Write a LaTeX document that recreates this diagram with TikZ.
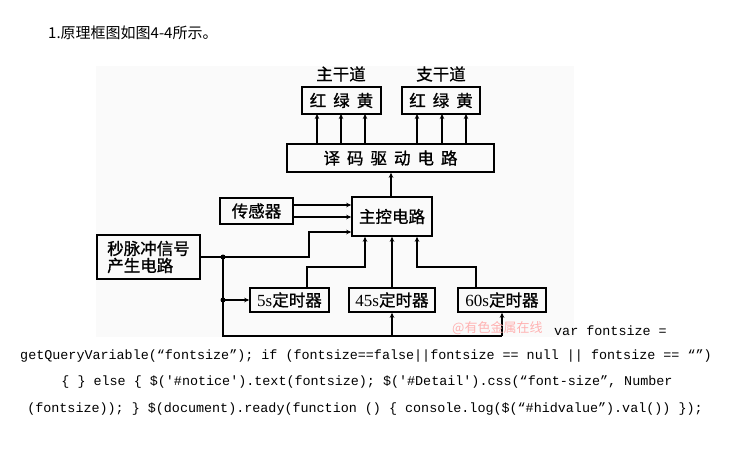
\documentclass[tikz,border=0pt]{standalone}
\usepackage{fontspec}
\setmainfont{Liberation Serif}
\setmonofont{Liberation Mono}
\newfontfamily\cjk{Noto Sans CJK SC}
\newfontfamily\cjkb{Noto Sans CJK SC}[FakeBold=1]
\usetikzlibrary{arrows.meta}
\tikzset{
  blk/.style={draw=black, line width=1.6pt, inner sep=0pt, font=\cjkb\fontsize{16.5}{17}\selectfont, align=center},
  lbl/.style={inner sep=0pt, font=\cjkb\fontsize{16.5}{17}\selectfont},
  wire/.style={line width=1.3pt},
  arr/.style={line width=1.3pt, -{Stealth[length=5pt,width=4.5pt]}},
  dot/.style={circle, fill=black, inner sep=0pt, minimum size=5pt},
  code/.style={inner sep=0pt, font=\ttfamily\fontsize{13.4}{15}\selectfont},
}
\newcommand{\gp}{\hspace{7pt}}
\begin{document}
\begin{tikzpicture}[x=1pt,y=-1pt]
\useasboundingbox (0,0) rectangle (730,458);
\fill[black!2] (96,66) rectangle (574,337);
% title
\node[inner sep=0pt, anchor=west, font=\cjk\fontsize{15}{16}\selectfont] (title) at (48,33) {1.原理框图如图4-4所示。};
% labels
\node[lbl] (ml) at (341,74) {主干道};
\node[lbl] (sl) at (441,74) {支干道};
% blocks
\node[blk, minimum width=79pt, minimum height=27pt] (bm) at (341.5,100.5) {红\gp 绿\gp 黄};
\node[blk, minimum width=78pt, minimum height=27pt] (bs) at (441,100.5) {红\gp 绿\gp 黄};
\node[blk, minimum width=207pt, minimum height=28pt] (dec) at (390.5,158) {译\gp 码\gp 驱\gp 动\gp 电\gp 路};
\node[blk, minimum width=80pt, minimum height=39pt] (ctl) at (392,216.5) {主控电路};
\node[blk, minimum width=73pt, minimum height=26pt] (sen) at (256.5,211) {传感器};
\node[blk, minimum width=103pt, minimum height=44pt, align=left] (pul) at (148.5,257) {秒脉冲信号\\产生电路};
\node[blk, minimum width=79pt, minimum height=24pt] (t5) at (289.5,300) {{\rmfamily\fontsize{17}{17}\selectfont 5s}定时器};
\node[blk, minimum width=86pt, minimum height=24pt] (t45) at (392,300) {{\rmfamily\fontsize{17}{17}\selectfont 45s}定时器};
\node[blk, minimum width=88pt, minimum height=24pt] (t60) at (502,300) {{\rmfamily\fontsize{17}{17}\selectfont 60s}定时器};
% decoder to lights
\foreach \x in {317,341,365,417,442,466}{
  \draw[arr] (dec.north -| \x,0) -- (\x,114);
}
\draw[arr] (ctl.north -| 391,0) -- (dec.south -| 391,0);
% sensor to control
\draw[arr] (sen.east |- 0,205) -- (ctl.west |- 0,205);
\draw[arr] (sen.east |- 0,217) -- (ctl.west |- 0,217);
% pulse
\coordinate (j1) at (223,257);
\coordinate (j2) at (223,300);
\coordinate (bl) at (223,336);
\coordinate (br) at (502,336);
\draw[wire] (pul.east) -- (j1);
\draw[arr] (j1) -- (309,257) -- (309,232) -- (ctl.west |- 0,232);
\draw[wire] (j1) -- (bl) -- (br);
\draw[arr] (br) -- (t60.south);
\draw[arr] (bl -| t45.south) -- (t45.south);
\draw[arr] (j2) -- (t5.west);
\node[dot] (d1) at (j1) {};
\node[dot] (d2) at (j2) {};
% timers to control
\draw[arr] (t5.north -| 307,0) -- (307,267) -- (365,267) -- (ctl.south -| 365,0);
\draw[arr] (t45.north) -- (ctl.south -| t45.north);
\draw[arr] (t60.north -| 476,0) -- (476,267) -- (417,267) -- (ctl.south -| 417,0);
% watermark
\node[inner sep=0pt, anchor=west, text=red!30, font=\cjk\fontsize{13}{14}\selectfont] (wm) at (452,328) {@有色金属在线};
% code text
\node[code, anchor=west] (c1) at (554,331) {var fontsize =};
\node[code] (c2) at (366,356) {getQueryVariable(“fontsize”); if (fontsize==false||fontsize == null || fontsize == “”)};
\node[code] (c3) at (367,382) {\{ \} else \{ \$('\#notice').text(fontsize); \$('\#Detail').css(“font-size”, Number};
\node[code] (c4) at (365,409) {(fontsize)); \} \$(document).ready(function () \{ console.log(\$(“\#hidvalue”).val()) \});};
\end{tikzpicture}
\end{document}
